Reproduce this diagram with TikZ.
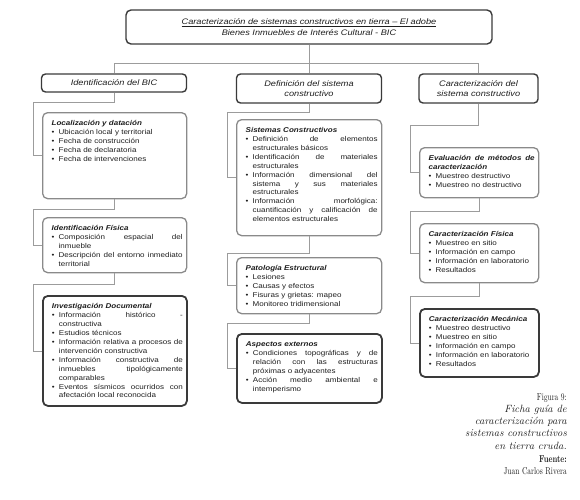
\documentclass[tikz,border=0pt]{standalone}
\usepackage{fontspec}
\newfontfamily\cardfont[FakeStretch=1.15]{Liberation Sans}
\newfontfamily\capfont{lmroman10-regular}[Extension=.otf, BoldFont=lmroman10-bold, FakeStretch=0.75]
\usepackage{tikz}
\definecolor{framedark}{HTML}{3A3A3A}
\definecolor{framegray}{HTML}{8A8A8A}
\definecolor{linkgray}{HTML}{9C9C9C}
\definecolor{textdark}{HTML}{1E1E1E}
\hyphenpenalty=10000
\exhyphenpenalty=10000
\tolerance=9999
\emergencystretch=3em
\newcommand{\cardhead}[1]{\hangindent=5pt\hangafter=1\noindent\hspace*{5pt}\textbf{\textit{#1}}\par}
\newcommand{\bitem}[1]{\par\hangindent=12pt\hangafter=1\noindent\hspace*{5pt}\makebox[7pt][l]{\textbullet}#1\par}
\tikzset{
  maintitle/.style={rectangle, rounded corners=5pt, draw=framedark, line width=1.4pt,
                    align=center, font=\cardfont\itshape\fontsize{8}{11}\selectfont,
                    text=textdark, minimum width=366pt, minimum height=34pt},
  headbox/.style  ={rectangle, rounded corners=4pt, draw=framedark, line width=1.4pt,
                    align=center, font=\cardfont\itshape\fontsize{8}{10.5}\selectfont,
                    text=textdark, inner sep=2pt},
  card/.style     ={rectangle, rounded corners=5pt, draw=framegray, line width=1.3pt,
                    anchor=north west, inner xsep=4pt, inner ysep=7pt, text height=6pt,
                    align=justify, font=\cardfont\fontsize{7}{8.9}\selectfont, text=textdark},
  keycard/.style  ={card, draw=framedark, line width=1.8pt},
  link/.style     ={draw=linkgray, line width=0.8pt},
  figcap/.style   ={align=right, inner sep=0pt, anchor=north east,
                    font=\capfont\fontsize{10}{12.3}\selectfont, text=textdark},
}
\newcommand{\capit}[1]{{\normalfont\itshape\fontsize{10.5}{12.3}\selectfont #1}}
\begin{document}
\begin{tikzpicture}[x=1pt,y=-1pt]
\useasboundingbox (0,0) rectangle (580,499);
% title and column headers
\node[maintitle] (top) at (309,27) {\underline{Caracterización de sistemas constructivos en tierra – El adobe}\\Bienes Inmuebles de Interés Cultural - BIC};
\node[headbox, minimum width=145pt, minimum height=18pt] (ident) at (114,83) {Identificación del BIC};
\node[headbox, minimum width=145pt, minimum height=29pt] (def) at (309,88.5) {Definición del sistema\\constructivo};
\node[headbox, minimum width=119pt, minimum height=29pt] (caract) at (478.5,88.5) {Caracterización del\\sistema constructivo};

% left column
\node[card, text width=136pt, text depth=66pt] (loc) at (42,112) {\cardhead{Localización y datación}
  \bitem{Ubicación local y territorial}
  \bitem{Fecha de construcción}
  \bitem{Fecha de declaratoria}
  \bitem{Fecha de intervenciones}};
\node[card, text width=136pt, text depth=35pt] (fis) at (42,217) {\cardhead{Identificación Física}
  \bitem{Composición espacial del\linebreak inmueble}
  \bitem{Descripción del entorno inmediato territorial}};
\node[keycard, text width=136pt, text depth=90pt] (inv) at (42,295) {\cardhead{Investigación Documental}
  \bitem{Información histórico -\linebreak constructiva}
  \bitem{Estudios técnicos}
  \bitem{Información relativa a procesos de intervención constructiva}
  \bitem{Información constructiva de inmuebles tipológicamente comparables}
  \bitem{Eventos sísmicos ocurridos con afectación local reconocida}};

% middle column
\node[card, text width=137pt, text depth=96pt] (sis) at (236,119) {\cardhead{Sistemas Constructivos}
  \bitem{Definición de elementos estructurales básicos}
  \bitem{Identificación de materiales estructurales}
  \bitem{Información dimensional del sistema y sus materiales estructurales}
  \bitem{Información morfológica: cuantificación y calificación de elementos estructurales}};
\node[card, text width=137pt, text depth=36pt] (pat) at (236,257) {\cardhead{Patología Estructural}
  \bitem{Lesiones}
  \bitem{Causas y efectos}
  \bitem{Fisuras y grietas: mapeo}
  \bitem{Monitoreo tridimensional}};
\node[keycard, text width=137pt, text depth=49pt] (asp) at (236,333) {\cardhead{Aspectos externos}
  \bitem{Condiciones topográficas y de relación con las estructuras próximas o adyacentes}
  \bitem{Acción medio ambiental e intemperismo}};

% right column
\node[card, text width=111pt, text depth=30pt] (eva) at (419,147) {\cardhead{Evaluación de métodos de caracterización}
  \bitem{Muestreo destructivo}
  \bitem{Muestreo no destructivo}};
\node[card, text width=111pt, text depth=39pt] (cfi) at (419,223) {\cardhead{Caracterización Física}
  \bitem{Muestreo en sitio}
  \bitem{Información en campo}
  \bitem{Información en laboratorio}
  \bitem{Resultados}};
\node[keycard, text width=111pt, text depth=48pt] (cme) at (419,308) {\cardhead{Caracterización Mecánica}
  \bitem{Muestreo destructivo}
  \bitem{Muestreo en sitio}
  \bitem{Información en campo}
  \bitem{Información en laboratorio}
  \bitem{Resultados}};

% connectors
\draw[link] (top.south) -- (def.north);
\draw[link] (ident.north) -- ++(0,-10) -| (caract.north);
\draw[link] (ident.south) -- ++(0,10) -| ([xshift=-9pt]loc.west) -- (loc.west);
\draw[link] (loc.south) -- ++(0,10) -| ([xshift=-9pt]fis.west) -- (fis.west);
\draw[link] (fis.south) -- ++(0,11) -| ([xshift=-9pt]inv.west) -- (inv.west);
\draw[link] (def.south) -- ++(0,9) -| ([xshift=-9pt]sis.west) -- (sis.west);
\draw[link] (sis.south) -- ++(0,17) -| ([xshift=-9pt]pat.west) -- (pat.west);
\draw[link] (pat.south) -- ++(0,9) -| ([xshift=-9pt]asp.west) -- (asp.west);
\draw[link] (caract.south) -- ++(0,22) -| ([xshift=-9pt]eva.west) -- (eva.west);
\draw[link] (eva.south) -- ++(0,13) -| ([xshift=-9pt]cfi.west) -- (cfi.west);
\draw[link] (cfi.south) -- ++(0,13) -| ([xshift=-9pt]cme.west) -- (cme.west);

% caption
\node[figcap] (cap) at (567,393) {Figura 9:\\\capit{Ficha guía de}\\\capit{caracterización para}\\\capit{sistemas constructivos}\\\capit{en tierra cruda.}\\[1pt]\textbf{Fuente:}\\Juan Carlos Rivera};
\end{tikzpicture}
\end{document}
